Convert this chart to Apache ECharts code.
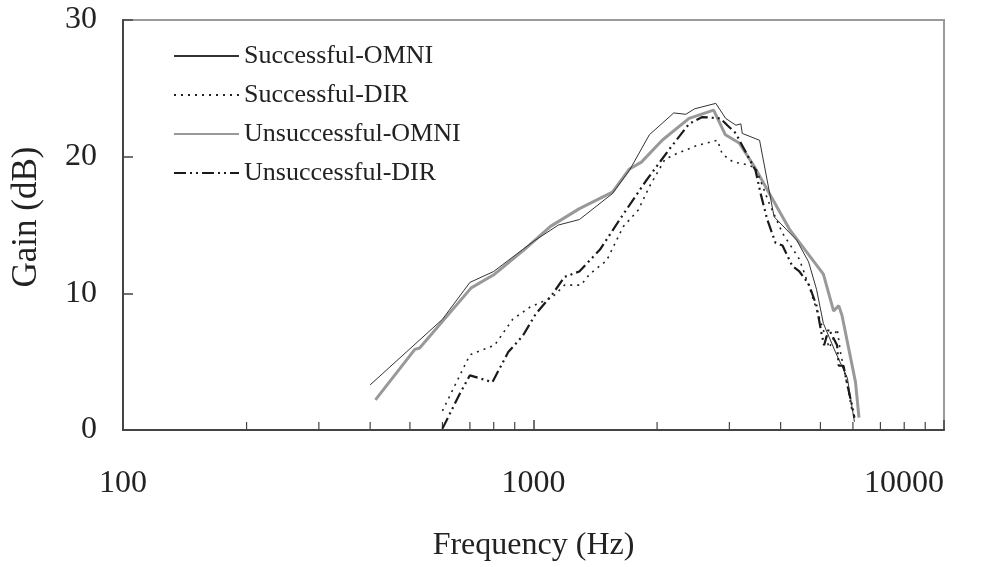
<!DOCTYPE html>
<html>
<head>
<meta charset="utf-8">
<title>Gain vs Frequency</title>
<script src="https://cdn.jsdelivr.net/npm/echarts@6/dist/echarts.min.js"></script>
<style>
  html, body { margin: 0; padding: 0; background: #fff; }
  #chart { width: 990px; height: 567px; }
</style>
</head>
<body>
<div id="chart"></div>
<script>
// values (frequency in Hz, gain in dB)
var sOmniFreq = [400, 600, 700, 800, 940, 1000, 1150, 1294, 1557, 1713, 1915, 2196, 2349, 2468, 2781, 2938, 3113, 3200, 3225, 3554, 3856, 4375, 4679, 4891, 5083, 5440, 5816, 6050]
var sOmniGain = [3.3, 8.1, 10.8, 11.6, 13.2, 13.8, 15.0, 15.4, 17.3, 19.0, 21.6, 23.2, 23.1, 23.5, 23.9, 22.8, 22.3, 22.4, 21.7, 21.2, 15.6, 13.9, 12.3, 10.3, 7.8, 5.7, 3.8, 0.6]

var sDirFreq = [600, 700, 804, 890, 982, 1110, 1190, 1305, 1370, 1507, 1656, 1800, 1915, 2090, 2222, 2493, 2806, 2882, 3064, 3225, 3474, 3750, 4042, 4443, 4679, 4945, 5254, 5493, 5594, 5853, 5968]
var sDirGain = [1.4, 5.5, 6.2, 8.1, 9.0, 9.7, 10.6, 10.6, 11.4, 12.4, 14.9, 16.1, 17.8, 19.8, 20.2, 20.8, 21.2, 20.2, 19.6, 19.5, 19.2, 16.6, 14.4, 12.5, 10.6, 8.4, 6.0, 7.4, 5.7, 2.8, 1.4]

var uOmniFreq = [412, 514, 528, 705, 804, 950, 1100, 1294, 1557, 1713, 1832, 2058, 2393, 2747, 2934, 3170, 3447, 4200, 5083, 5385, 5540, 5642, 6087, 6207]
var uOmniGain = [2.2, 5.9, 6.0, 10.4, 11.4, 13.2, 14.9, 16.2, 17.4, 19.1, 19.6, 21.2, 22.8, 23.4, 21.6, 21.0, 19.3, 14.7, 11.4, 8.7, 9.1, 8.4, 3.5, 0.9]

var uDirFreq = [600, 660, 700, 794, 868, 942, 1013, 1110, 1190, 1293, 1452, 1622, 1876, 2137, 2393, 2578, 2855, 2965, 3113, 3200, 3474, 3575, 3710, 3887, 4042, 4269, 4443, 4679, 4891, 5020, 5104, 5240, 5490, 5540, 5690, 5816, 5968, 6050]
var uDirGain = [0.1, 2.6, 4.0, 3.5, 5.7, 6.9, 8.5, 9.9, 11.2, 11.6, 13.2, 15.4, 18.2, 20.5, 22.4, 22.9, 22.8, 22.3, 21.7, 21.0, 19.0, 17.3, 15.4, 13.7, 13.5, 12.0, 11.6, 10.7, 9.1, 7.2, 6.2, 7.4, 6.2, 4.7, 4.7, 3.3, 1.8, 0.9]

var seriesNames = ['Successful-OMNI', 'Successful-DIR', 'Unsuccessful-OMNI', 'Unsuccessful-DIR']
var minorTickFreq = [200, 300, 400, 500, 600, 700, 800, 900, 2000, 3000, 4000, 5000, 6000, 7000, 8000, 9000]

var font = '"Liberation Serif", "Times New Roman", serif'

function pairs(xs, ys) {
  var out = []
  for (var i = 0; i < xs.length; i++) {
    out.push([xs[i], ys[i]])
  }
  return out
}

var chart = echarts.init(document.getElementById('chart'))

chart.setOption({
  animation: false,
  backgroundColor: '#fff',
  grid: {
    left: 123,
    right: 46,
    top: 20,
    bottom: 135,
    show: true,
    borderColor: '#9a9a9a',
    borderWidth: 2
  },
  legend: {
    orient: 'vertical',
    left: 168,
    top: 38,
    itemWidth: 65,
    itemHeight: 14,
    itemGap: 13,
    data: seriesNames,
    itemStyle: { opacity: 0 },
    textStyle: {
      fontFamily: font,
      fontSize: 26,
      color: '#222'
    }
  },
  xAxis: {
    type: 'log',
    logBase: 10,
    min: 100,
    max: 10000,
    name: 'Frequency (Hz)',
    nameLocation: 'middle',
    nameGap: 100,
    nameTextStyle: {
      fontFamily: font,
      fontSize: 32,
      color: '#222'
    },
    splitLine: { show: false },
    axisLine: {
      lineStyle: { color: '#444', width: 2 }
    },
    axisTick: {
      inside: true,
      length: 10,
      lineStyle: { color: '#444', width: 1.5 }
    },
    axisLabel: {
      margin: 38,
      fontFamily: font,
      fontSize: 32,
      color: '#222',
      alignMaxLabel: 'right',
      formatter: function(value) {
        return String(Math.round(value))
      }
    }
  },
  yAxis: {
    type: 'value',
    min: 0,
    max: 30,
    interval: 10,
    splitLine: { show: false },
    axisLine: {
      show: true,
      lineStyle: { color: '#444', width: 2 }
    },
    axisTick: {
      show: true,
      inside: true,
      length: 10,
      lineStyle: { color: '#444', width: 1.5 }
    },
    axisLabel: {
      margin: 26,
      fontFamily: font,
      fontSize: 32,
      color: '#222'
    }
  },
  graphic: [
    {
      type: 'text',
      x: 27,
      y: 217,
      rotation: Math.PI / 2,
      style: {
        text: 'Gain (dB)',
        fontFamily: font,
        fontSize: 35,
        fill: '#222',
        align: 'center',
        verticalAlign: 'middle'
      }
    }
  ],
  series: [
    {
      name: 'Successful-OMNI',
      type: 'line',
      symbol: 'none',
      data: pairs(sOmniFreq, sOmniGain),
      lineStyle: { color: '#333', width: 1 },
      itemStyle: { color: '#333' },
      z: 4
    },
    {
      name: 'Successful-DIR',
      type: 'line',
      symbol: 'none',
      data: pairs(sDirFreq, sDirGain),
      lineStyle: { color: '#222', width: 1.6, type: [2, 5] },
      itemStyle: { color: '#222' },
      z: 5
    },
    {
      name: 'Unsuccessful-OMNI',
      type: 'line',
      symbol: 'none',
      data: pairs(uOmniFreq, uOmniGain),
      lineStyle: { color: '#999', width: 3 },
      itemStyle: { color: '#999' },
      z: 3
    },
    {
      name: 'Unsuccessful-DIR',
      type: 'line',
      symbol: 'none',
      data: pairs(uDirFreq, uDirGain),
      lineStyle: { color: '#1a1a1a', width: 2.2, type: [12, 4, 2, 4, 2, 4] },
      itemStyle: { color: '#1a1a1a' },
      z: 6
    },
    {
      // minor ticks of the log axis at 2..9 x each decade
      type: 'custom',
      silent: true,
      data: minorTickFreq.map(function(f) { return [f, 0] }),
      renderItem: function(params, api) {
        var p = api.coord([api.value(0), 0])
        return {
          type: 'line',
          shape: { x1: p[0], y1: p[1], x2: p[0], y2: p[1] - 8 },
          style: { stroke: '#444', lineWidth: 1.2 }
        }
      },
      z: 2
    }
  ]
})
</script>
</body>
</html>
